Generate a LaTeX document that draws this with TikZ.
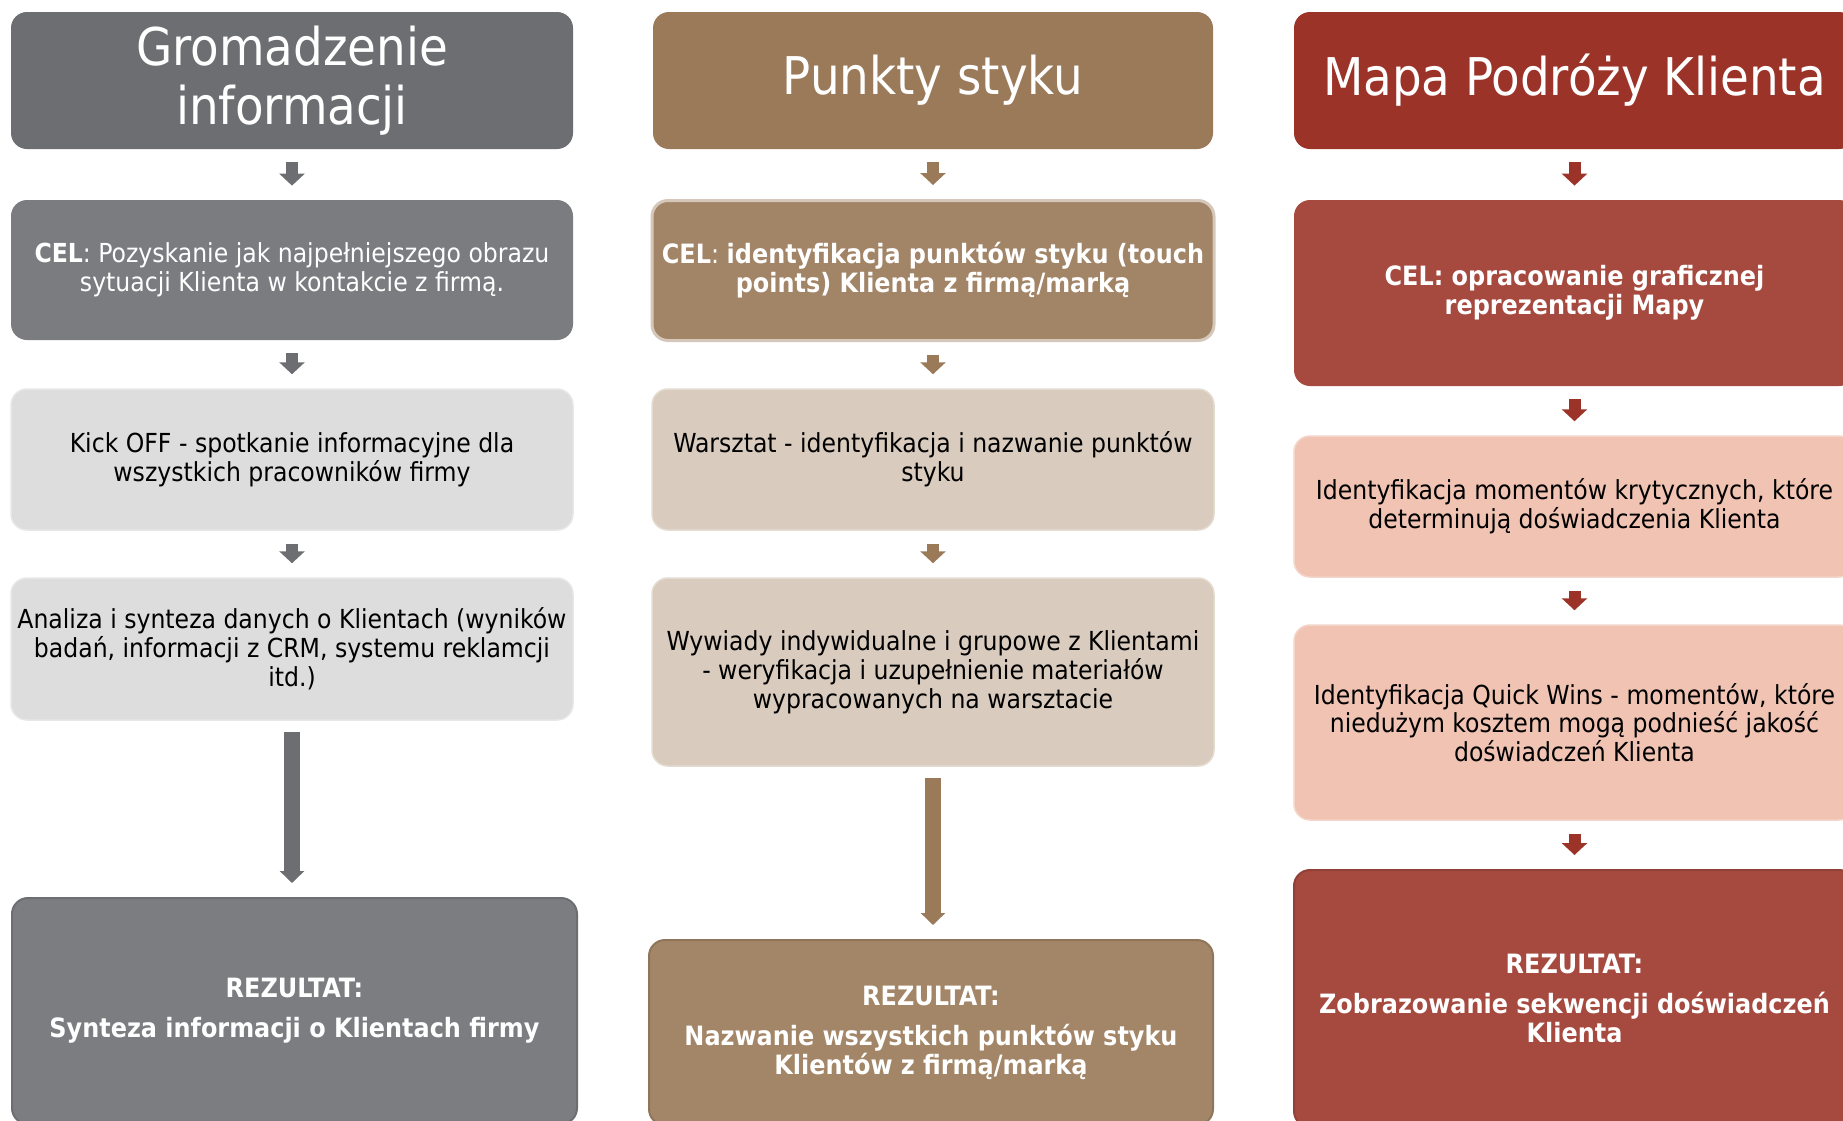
\documentclass[tikz,border=0pt]{standalone}
\usepackage{fontspec}
\setmainfont{DejaVu Sans Condensed}
\usetikzlibrary{arrows.meta}
\definecolor{hA}{HTML}{6D6E71}
\definecolor{cA}{HTML}{7B7C80}
\definecolor{lA}{HTML}{DDDDDD}
\definecolor{rA}{HTML}{7C7D81}
\definecolor{hB}{HTML}{9B7A5A}
\definecolor{cB}{HTML}{A28467}
\definecolor{lB}{HTML}{D9CBBE}
\definecolor{rB}{HTML}{A38667}
\definecolor{hC}{HTML}{9C3328}
\definecolor{cC}{HTML}{A64A40}
\definecolor{lC}{HTML}{F0C3B3}
\definecolor{rC}{HTML}{A64A40}
\newcommand{\hdrtext}[1]{\raisebox{-2.4pt}{\parbox{270pt}{\centering #1}}}
\begin{document}
\begin{tikzpicture}[x=0.5pt,y=-0.5pt,
  box/.style={rounded corners=8pt, inner sep=0pt, align=center,
    font=\fontsize{13.1}{14.4}\selectfont},
  hdr/.style={box, text=white, font=\fontsize{26}{29.5}\selectfont},
  dark/.style={box, text=white},
  darkb/.style={box, text=white, font=\fontsize{13.3}{14.4}\selectfont},
  light/.style={box, text=black},
  sarrow/.style={line width=6pt, -{Triangle[length=6pt,width=12.5pt]},
    shorten <=6.5pt, shorten >=7pt},
  larrow/.style={line width=8pt, -{Triangle[length=6pt,width=12pt]},
    shorten <=5.5pt, shorten >=7pt}]
\fill[white] (0,0) rectangle (1843,1120);
\useasboundingbox (0,0) rectangle (1843,1120);
\clip (0,0) rectangle (1843,1120);

% ---------- column 1 ----------
\node[hdr, fill=hA, minimum width=281pt, minimum height=68.5pt] (h1) at (292,80.5)
  {\hdrtext{Gromadzenie\\informacji}};
\node[dark, fill=cA, minimum width=281pt, minimum height=70pt] (c1) at (292,270)
  {\textbf{CEL}: Pozyskanie jak najpełniejszego obrazu\\sytuacji Klienta w kontakcie z firmą.};
\node[light, fill=lA, draw=lA!70!white, line width=0.75pt, minimum width=281pt, minimum height=70.5pt] (k1) at (292,459.5)
  {Kick OFF - spotkanie informacyjne dla\\wszystkich pracowników firmy};
\node[light, fill=lA, draw=lA!70!white, line width=0.75pt, minimum width=281pt, minimum height=71pt] (a1) at (292,649)
  {Analiza i synteza danych o Klientach (wyników\\badań, informacji z CRM, systemu reklamcji\\itd.)};
\node[darkb, fill=rA, draw=rA!88!black, line width=1pt, minimum width=282.5pt, minimum height=113pt] (r1) at (294.5,1011)
  {\textbf{REZULTAT:}\\[5.6pt]\textbf{Synteza informacji o Klientach firmy}};

\draw[sarrow, hA] (h1.south) -- (c1.north);
\draw[sarrow, hA] (c1.south) -- (k1.north);
\draw[sarrow, hA] (k1.south) -- (a1.north);
\draw[larrow, hA] (a1.south) -- (a1.south |- r1.north);

% ---------- column 2 ----------
\node[hdr, fill=hB, minimum width=280pt, minimum height=68.5pt] (h2) at (933,80.5)
  {\hdrtext{Punkty styku}};
\node[darkb, fill=cB, draw=cB!45!white, line width=1.5pt, minimum width=281pt, minimum height=70pt] (c2) at (933,270.5)
  {\textbf{CEL}: \textbf{identyfikacja punktów styku (touch}\\\textbf{points) Klienta z firmą/marką}};
\node[light, fill=lB, draw=lB!70!white, line width=0.75pt, minimum width=281pt, minimum height=70.5pt] (w2) at (933,459.5)
  {Warsztat - identyfikacja i nazwanie punktów\\styku};
\node[light, fill=lB, draw=lB!70!white, line width=0.75pt, minimum width=281pt, minimum height=94pt] (y2) at (933,672)
  {Wywiady indywidualne i grupowe z Klientami\\- weryfikacja i uzupełnienie materiałów\\wypracowanych na warsztacie};
\node[darkb, fill=rB, draw=rB!88!black, line width=1pt, minimum width=282pt, minimum height=92.5pt] (r2) at (931,1032.5)
  {\textbf{REZULTAT:}\\[5.6pt]\textbf{Nazwanie wszystkich punktów styku}\\\textbf{Klientów z firmą/marką}};

\draw[sarrow, hB] (h2.south) -- (c2.north);
\draw[sarrow, hB] (c2.south) -- (w2.north);
\draw[sarrow, hB] (w2.south) -- (y2.north);
\draw[larrow, hB] (y2.south) -- (y2.south |- r2.north);

% ---------- column 3 ----------
\node[hdr, fill=hC, minimum width=280.5pt, minimum height=68.5pt] (h3) at (1574.5,80.5)
  {\hdrtext{Mapa Podróży Klienta}};
\node[darkb, fill=cC, minimum width=280.5pt, minimum height=93pt] (c3) at (1574.5,293)
  {\textbf{CEL: opracowanie graficznej}\\\textbf{reprezentacji Mapy}};
\node[light, fill=lC, draw=lC!70!white, line width=0.75pt, minimum width=280.5pt, minimum height=70.5pt] (i3) at (1574.5,506.5)
  {Identyfikacja momentów krytycznych, które\\determinują doświadczenia Klienta};
\node[light, fill=lC, draw=lC!70!white, line width=0.75pt, minimum width=280.5pt, minimum height=97.5pt] (q3) at (1574.5,722.5)
  {Identyfikacja Quick Wins - momentów, które\\niedużym kosztem mogą podnieść jakość\\doświadczeń Klienta};
\node[darkb, fill=rC, draw=rC!88!black, line width=1pt, minimum width=280.5pt, minimum height=128.5pt] (r3) at (1574.5,998.5)
  {\textbf{REZULTAT:}\\[5.6pt]\textbf{Zobrazowanie sekwencji doświadczeń}\\\textbf{Klienta}};

\draw[sarrow, hC] (h3.south) -- (c3.north);
\draw[sarrow, hC] (c3.south) -- (i3.north);
\draw[sarrow, hC] (i3.south) -- (q3.north);
\draw[sarrow, hC] (q3.south) -- (r3.north);
\end{tikzpicture}
\end{document}
